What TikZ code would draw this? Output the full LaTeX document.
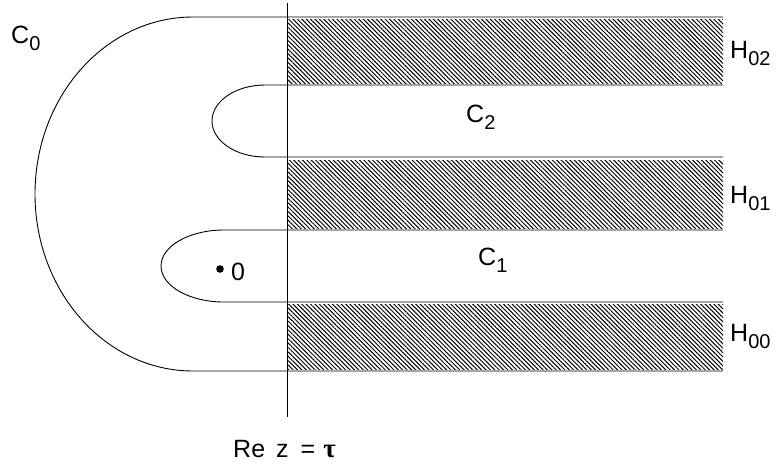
\documentclass[tikz,border=0pt]{standalone}
\usepackage{fontspec}
\setmainfont{Liberation Sans}
\newfontfamily\taufont{Liberation Serif}
\usetikzlibrary{patterns.meta}
\newcommand{\lsub}[1]{\raisebox{-7.5pt}{\fontsize{20}{20}\selectfont #1}}
\tikzset{
  curve/.style={line width=0.9pt},
  hatch/.style={pattern={Lines[angle=-45,distance=3.1pt,line width=1pt]}},
  lbl/.style={inner sep=0pt, anchor=base west, font=\fontsize{25}{25}\selectfont}
}
\begin{document}
\begin{tikzpicture}[x=1pt,y=-1pt]
\useasboundingbox (0,0) rectangle (784,467);
% hatched strips
\fill[hatch] (288,19) rectangle (723,83);
\fill[hatch] (288,160) rectangle (723,228);
\fill[hatch] (288,304) rectangle (723,369);
% contours
\draw[curve] (723,17) -- (193,17) arc[start angle=270,end angle=90,x radius=158,y radius=177] -- (723,371);
\draw[curve] (723,85) -- (265,85) arc[start angle=270,end angle=90,x radius=53,y radius=36] -- (723,157);
\draw[curve] (723,230) -- (224,230) arc[start angle=270,end angle=90,x radius=63,y radius=36] -- (723,302);
% vertical line Re z = tau
\coordinate (vtop) at (287,3);
\coordinate (vbot) at (287,417);
\draw[curve] (vtop) -- (vbot);
% labels
\node[lbl] (c0) at (11,43) {C\lsub{0}};
\node[lbl] (c2) at (466,122) {C\lsub{2}};
\node[lbl] (c1) at (478,265) {C\lsub{1}};
\node[lbl] (h02) at (730,58) {H\lsub{02}};
\node[lbl] (h01) at (730,203) {H\lsub{01}};
\node[lbl] (h00) at (730,341) {H\lsub{00}};
\fill (220,269) circle[radius=3.8];
\node[lbl] (zero) at (231,280) {0};
\node[lbl] (rez) at (233,457) {Re\hspace{11pt}z\hspace{12pt}=\hspace{8pt}{\taufont\bfseries\fontsize{27}{27}\selectfont τ}};
\end{tikzpicture}
\end{document}
